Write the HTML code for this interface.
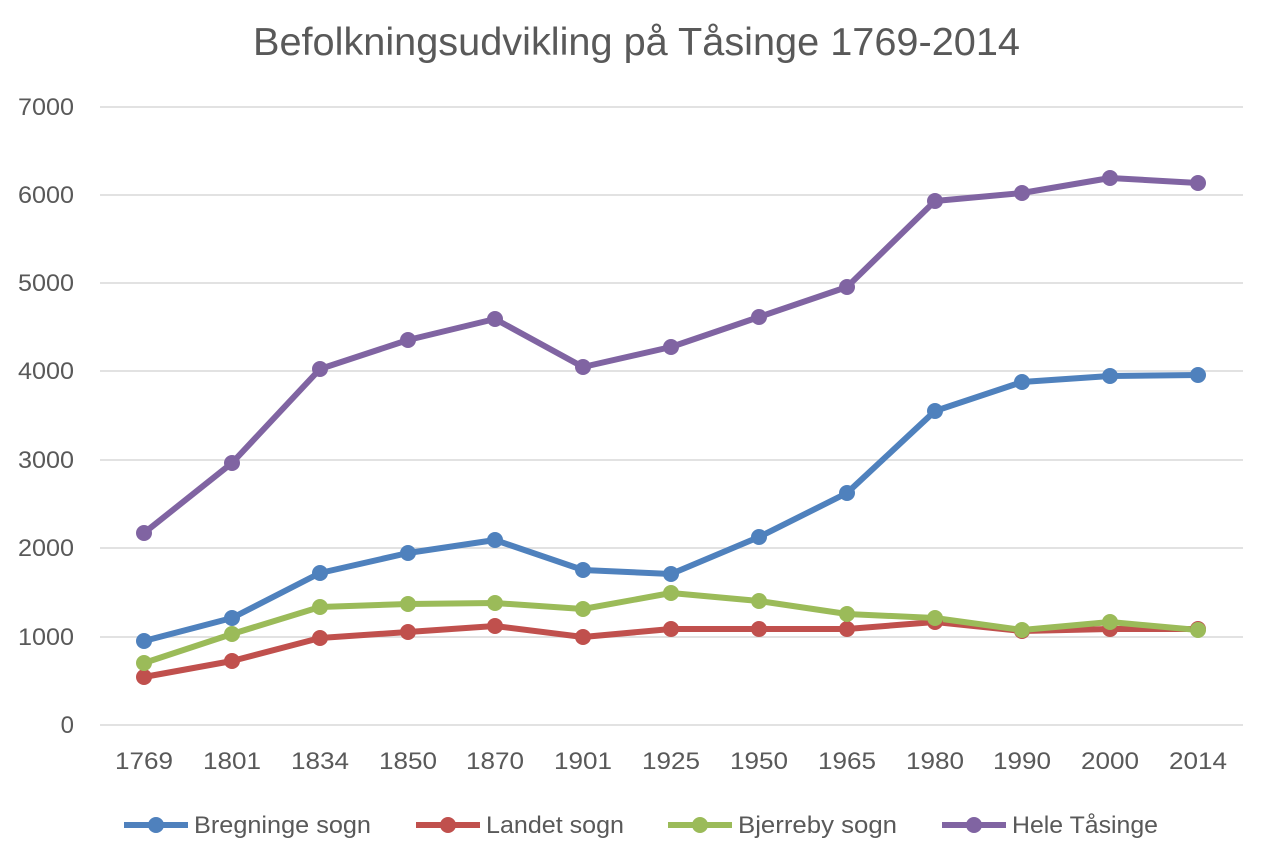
<!DOCTYPE html>
<html><head><meta charset="utf-8"><style>body{margin:0;background:#fff}svg{display:block}text{font-family:"Liberation Sans",sans-serif;fill:#595959}</style></head>
<body>
<svg width="1273" height="860" viewBox="0 0 1273 860" xmlns="http://www.w3.org/2000/svg">
<text x="253" y="55" font-size="39" textLength="767" lengthAdjust="spacingAndGlyphs">Befolkningsudvikling på Tåsinge 1769-2014</text>
<g stroke="#d9d9d9" stroke-width="1.5">
<line x1="100" x2="1243" y1="107" y2="107"/><line x1="100" x2="1243" y1="195" y2="195"/><line x1="100" x2="1243" y1="283" y2="283"/><line x1="100" x2="1243" y1="371" y2="371"/><line x1="100" x2="1243" y1="460" y2="460"/><line x1="100" x2="1243" y1="548" y2="548"/><line x1="100" x2="1243" y1="637" y2="637"/><line x1="100" x2="1243" y1="725" y2="725"/>
</g>
<g font-size="24" text-anchor="end">
<text x="74" y="115" textLength="56" lengthAdjust="spacingAndGlyphs">7000</text><text x="74" y="203" textLength="56" lengthAdjust="spacingAndGlyphs">6000</text><text x="74" y="291" textLength="56" lengthAdjust="spacingAndGlyphs">5000</text><text x="74" y="379" textLength="56" lengthAdjust="spacingAndGlyphs">4000</text><text x="74" y="468" textLength="56" lengthAdjust="spacingAndGlyphs">3000</text><text x="74" y="556" textLength="56" lengthAdjust="spacingAndGlyphs">2000</text><text x="74" y="645" textLength="56" lengthAdjust="spacingAndGlyphs">1000</text><text x="74" y="733">0</text>
</g>
<g font-size="24" text-anchor="middle">
<text x="144" y="769" textLength="58" lengthAdjust="spacingAndGlyphs">1769</text><text x="232" y="769" textLength="58" lengthAdjust="spacingAndGlyphs">1801</text><text x="320" y="769" textLength="58" lengthAdjust="spacingAndGlyphs">1834</text><text x="408" y="769" textLength="58" lengthAdjust="spacingAndGlyphs">1850</text><text x="495" y="769" textLength="58" lengthAdjust="spacingAndGlyphs">1870</text><text x="583" y="769" textLength="58" lengthAdjust="spacingAndGlyphs">1901</text><text x="671" y="769" textLength="58" lengthAdjust="spacingAndGlyphs">1925</text><text x="759" y="769" textLength="58" lengthAdjust="spacingAndGlyphs">1950</text><text x="847" y="769" textLength="58" lengthAdjust="spacingAndGlyphs">1965</text><text x="935" y="769" textLength="58" lengthAdjust="spacingAndGlyphs">1980</text><text x="1022" y="769" textLength="58" lengthAdjust="spacingAndGlyphs">1990</text><text x="1110" y="769" textLength="58" lengthAdjust="spacingAndGlyphs">2000</text><text x="1198" y="769" textLength="58" lengthAdjust="spacingAndGlyphs">2014</text>
</g>
<g fill="none" stroke-width="6" stroke-linejoin="round">
<polyline stroke="#C0504D" points="144,677 232,661 320,638 408,632 495,626 583,637 671,629 759,629 847,629 935,622 1022,631 1110,629 1198,629"/>
<polyline stroke="#9BBB59" points="144,663 232,634 320,607 408,604 495,603 583,609 671,593 759,601 847,614 935,618 1022,630 1110,622 1198,630"/>
<polyline stroke="#4F81BD" points="144,641 232,618 320,573 408,553 495,540 583,570 671,574 759,537 847,493 935,411 1022,382 1110,376 1198,375"/>
<polyline stroke="#8064A2" points="144,533 232,463 320,369 408,340 495,319 583,367 671,347 759,317 847,287 935,201 1022,193 1110,178 1198,183"/>
</g>
<g fill="#C0504D"><circle cx="144" cy="677" r="8"/><circle cx="232" cy="661" r="8"/><circle cx="320" cy="638" r="8"/><circle cx="408" cy="632" r="8"/><circle cx="495" cy="626" r="8"/><circle cx="583" cy="637" r="8"/><circle cx="671" cy="629" r="8"/><circle cx="759" cy="629" r="8"/><circle cx="847" cy="629" r="8"/><circle cx="935" cy="622" r="8"/><circle cx="1022" cy="631" r="8"/><circle cx="1110" cy="629" r="8"/><circle cx="1198" cy="629" r="8"/></g>
<g fill="#9BBB59"><circle cx="144" cy="663" r="8"/><circle cx="232" cy="634" r="8"/><circle cx="320" cy="607" r="8"/><circle cx="408" cy="604" r="8"/><circle cx="495" cy="603" r="8"/><circle cx="583" cy="609" r="8"/><circle cx="671" cy="593" r="8"/><circle cx="759" cy="601" r="8"/><circle cx="847" cy="614" r="8"/><circle cx="935" cy="618" r="8"/><circle cx="1022" cy="630" r="8"/><circle cx="1110" cy="622" r="8"/><circle cx="1198" cy="630" r="8"/></g>
<g fill="#4F81BD"><circle cx="144" cy="641" r="8"/><circle cx="232" cy="618" r="8"/><circle cx="320" cy="573" r="8"/><circle cx="408" cy="553" r="8"/><circle cx="495" cy="540" r="8"/><circle cx="583" cy="570" r="8"/><circle cx="671" cy="574" r="8"/><circle cx="759" cy="537" r="8"/><circle cx="847" cy="493" r="8"/><circle cx="935" cy="411" r="8"/><circle cx="1022" cy="382" r="8"/><circle cx="1110" cy="376" r="8"/><circle cx="1198" cy="375" r="8"/></g>
<g fill="#8064A2"><circle cx="144" cy="533" r="8"/><circle cx="232" cy="463" r="8"/><circle cx="320" cy="369" r="8"/><circle cx="408" cy="340" r="8"/><circle cx="495" cy="319" r="8"/><circle cx="583" cy="367" r="8"/><circle cx="671" cy="347" r="8"/><circle cx="759" cy="317" r="8"/><circle cx="847" cy="287" r="8"/><circle cx="935" cy="201" r="8"/><circle cx="1022" cy="193" r="8"/><circle cx="1110" cy="178" r="8"/><circle cx="1198" cy="183" r="8"/></g>
<g stroke-width="6">
<line x1="124" x2="188" y1="825" y2="825" stroke="#4F81BD"/><circle cx="156" cy="825" r="8" fill="#4F81BD"/>
<line x1="416" x2="480" y1="825" y2="825" stroke="#C0504D"/><circle cx="448" cy="825" r="8" fill="#C0504D"/>
<line x1="668" x2="732" y1="825" y2="825" stroke="#9BBB59"/><circle cx="700" cy="825" r="8" fill="#9BBB59"/>
<line x1="942" x2="1006" y1="825" y2="825" stroke="#8064A2"/><circle cx="974" cy="825" r="8" fill="#8064A2"/>
</g>
<g font-size="24">
<text x="194" y="833" textLength="177" lengthAdjust="spacingAndGlyphs">Bregninge sogn</text><text x="486" y="833" textLength="138" lengthAdjust="spacingAndGlyphs">Landet sogn</text><text x="738" y="833" textLength="159" lengthAdjust="spacingAndGlyphs">Bjerreby sogn</text><text x="1012" y="833" textLength="146" lengthAdjust="spacingAndGlyphs">Hele Tåsinge</text>
</g>
</svg>
</body></html>
